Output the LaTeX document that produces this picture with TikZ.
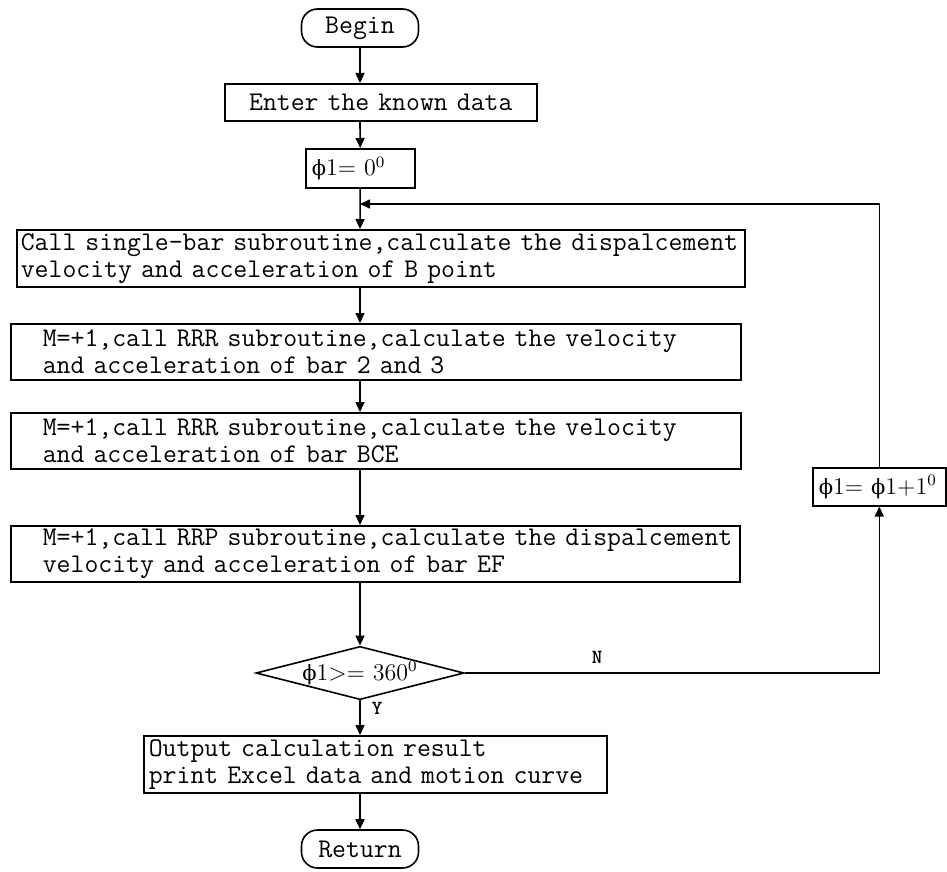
\documentclass[tikz,border=0pt]{standalone}
\usepackage{fontspec}
\newfontfamily\phifont{DejaVu Serif}
\usepackage{tikz}
\usetikzlibrary{shapes, arrows.meta, positioning}

\newcommand{\ph}{{\phifont\fontsize{10.5}{12}\selectfont ϕ}}

\begin{document}
\begin{tikzpicture}[x=0.5pt, y=-0.5pt,
    every node/.style={font=\fontsize{13.5}{13.5}\selectfont\ttfamily},
    proc/.style={rectangle, draw, line width=0.8pt, anchor=north west, align=left, inner xsep=1pt, inner ysep=0pt},
    term/.style={rectangle, draw, line width=0.8pt, rounded corners=8pt, minimum width=58.5pt, minimum height=19pt, inner sep=0pt},
    phitext/.style={font=\fontsize{12}{12}\selectfont\rmfamily},
    lbl/.style={font=\fontsize{10}{10}\selectfont\ttfamily\bfseries},
    flow/.style={line width=0.8pt, -{Triangle[length=5pt, width=4.5pt]}}]
			\useasboundingbox (0,0) rectangle (947,872);

			% Nodes
			\node (begin) [term] at (360,28) {Begin};
			\node (enter) [proc, align=center, text width=154pt, minimum height=18.5pt] at (224,83) {Enter the known data};
			\node (phi0) [proc, phitext, inner xsep=3pt, text width=48.5pt, minimum height=19.5pt] at (305,148) {\ph 1= 0\textsuperscript{0}};
			\coordinate (loop) at (360,204);
			\node (call) [proc, inner xsep=2pt, text width=360pt, minimum height=28.5pt] at (16,229) {Call single-bar subroutine,calculate the dispalcement\\velocity and acceleration of B point};
			\node (rrr1) [proc, text width=363pt, minimum height=28pt] at (10,323) {\hspace*{15pt}M=+1,call RRR subroutine,calculate the velocity\\\hspace*{15pt}and acceleration of bar 2 and 3};
			\node (rrr2) [proc, text width=363pt, minimum height=28pt] at (10,412) {\hspace*{15pt}M=+1,call RRR subroutine,calculate the velocity\\\hspace*{15pt}and acceleration of bar BCE};
			\node (rrp) [proc, text width=362.5pt, minimum height=28pt] at (10,525) {\hspace*{15pt}M=+1,call RRP subroutine,calculate the dispalcement\\\hspace*{15pt}velocity and acceleration of bar EF};
			\node (test) [diamond, draw, line width=0.8pt, phitext, shape aspect=3.9, inner sep=0pt, minimum width=104pt, minimum height=26.5pt] at (360,673) {\ph 1>= 360\textsuperscript{0}};
			\node (inc) [proc, phitext, inner xsep=3pt, text width=60.5pt, minimum height=19pt] at (812,467) {\ph 1=~\ph 1+1\textsuperscript{0}};
			\node (out) [proc, inner xsep=2.5pt, text width=226.5pt, minimum height=28.5pt] at (143,735) {Output calculation result\\print Excel data and motion curve};
			\node (ret) [term] at (360,849) {Return};
			\node (n) [lbl] at (597,657) {N};
			\node (y) [lbl] at (377,708) {Y};

			% Edges
			\draw [flow] (begin) -- (enter.north -| begin);
			\draw [flow] (enter.south -| begin) -- (phi0);
			\draw [flow] (phi0) -- (call.north -| begin);
			\draw [flow] (call.south -| begin) -- (rrr1.north -| begin);
			\draw [flow] (rrr1.south -| begin) -- (rrr2.north -| begin);
			\draw [flow] (rrr2.south -| begin) -- (rrp.north -| begin);
			\draw [flow] (rrp.south -| begin) -- (test);
			\draw [flow] (test) -- (out.north -| begin);
			\draw [flow] (out.south -| begin) -- (ret);
			\draw [flow] (test.east) -- (test.east -| inc) -- (inc);
			\draw [flow] (inc) |- (loop);

		\end{tikzpicture}
\end{document}
